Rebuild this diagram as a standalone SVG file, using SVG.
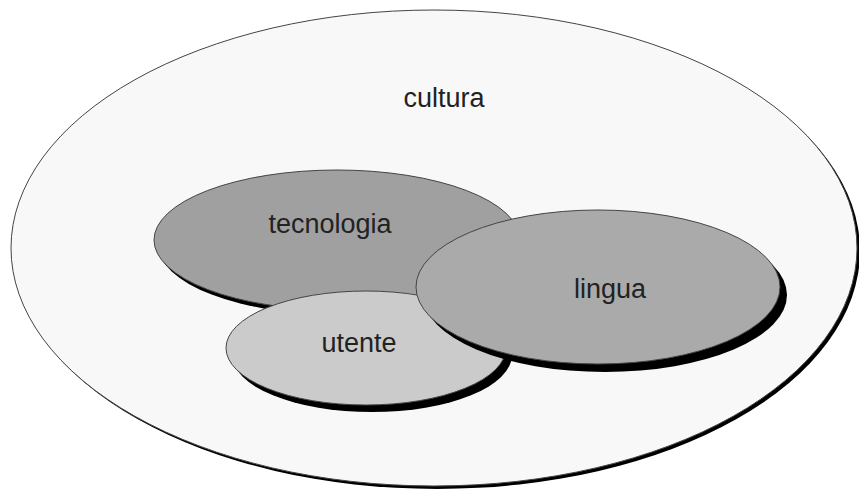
<svg xmlns="http://www.w3.org/2000/svg" width="859" height="495" viewBox="0 0 859 495">
<style>
.sh{fill:#000}
.e{stroke:#444;stroke-width:1}
text{font-family:"Liberation Sans",Arial,sans-serif;font-size:27px;fill:#222;text-anchor:middle}
</style>
<rect width="859" height="495" fill="#fff"/>
<g id="cultura">
<ellipse class="sh" cx="437" cy="251" rx="423" ry="238"/>
<ellipse class="e" cx="434" cy="248" rx="423" ry="238" fill="#f8f8f8"/>
<text x="444" y="107">cultura</text>
</g>
<g id="tecnologia">
<ellipse class="sh" cx="341" cy="245" rx="183" ry="70"/>
<ellipse class="e" cx="337" cy="240" rx="183" ry="70" fill="#a0a0a0"/>
<text x="330" y="233">tecnologia</text>
</g>
<g id="utente">
<ellipse class="sh" cx="372" cy="355" rx="140" ry="57"/>
<ellipse class="e" cx="366" cy="348" rx="140" ry="57" fill="#cbcbcb"/>
<text x="359" y="352">utente</text>
</g>
<g id="lingua">
<ellipse class="sh" cx="605" cy="295" rx="182" ry="77"/>
<ellipse class="e" cx="598" cy="287" rx="182" ry="77" fill="#aaaaaa"/>
<text x="610" y="298">lingua</text>
</g>
<g id="connectors"></g>
</svg>
